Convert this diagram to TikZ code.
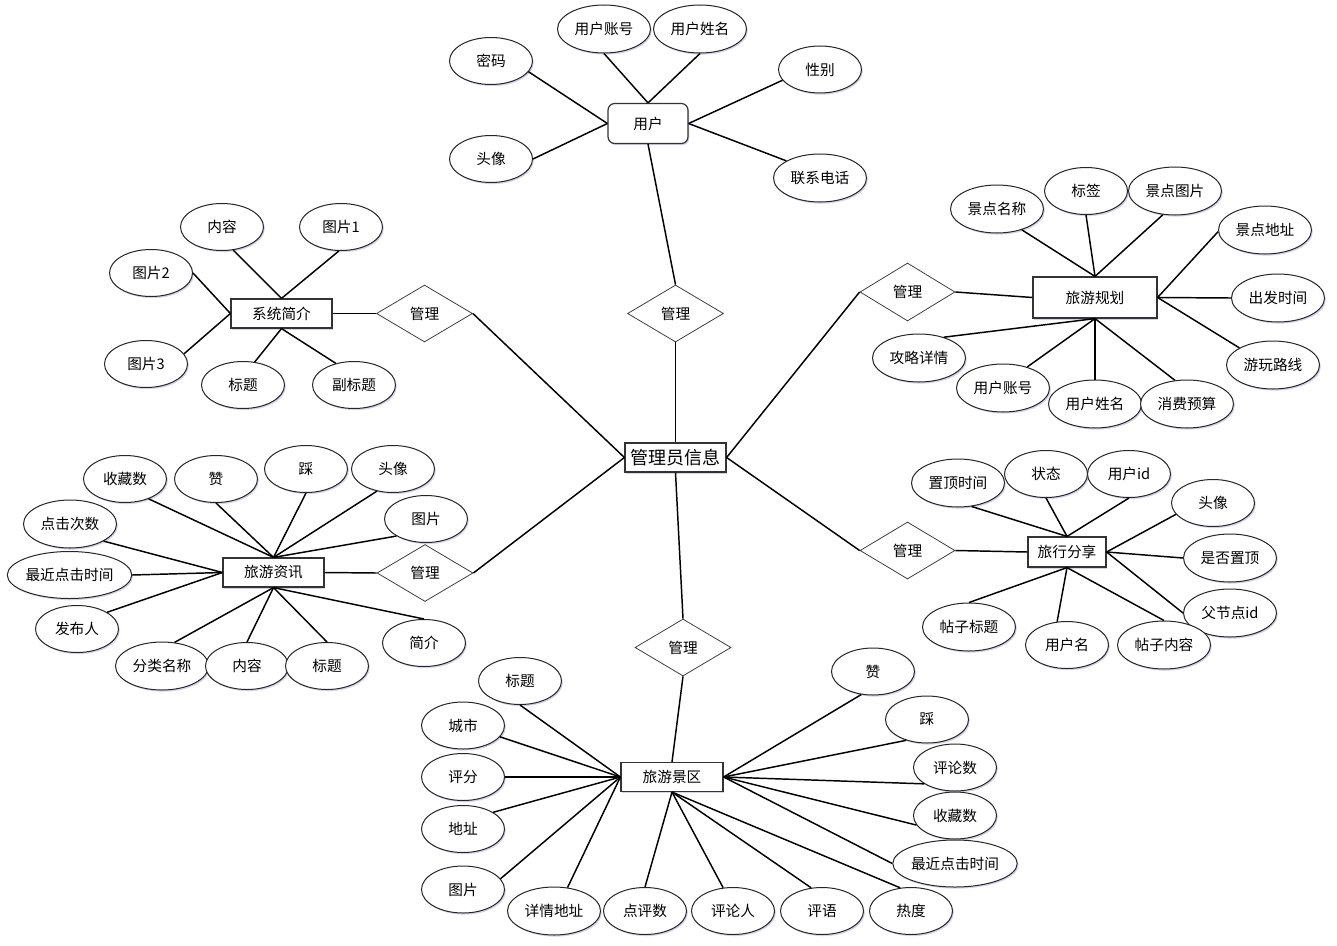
\documentclass[tikz,border=0pt]{standalone}
\usepackage{fontspec}
\usetikzlibrary{shapes.geometric,shadows}
\newfontfamily\cjk{Noto Sans CJK SC}
\begin{document}
\begin{tikzpicture}[x=0.75pt,y=-0.75pt,
  every node/.style={font=\cjk\fontsize{11}{13}\selectfont, inner sep=0pt},
  shad/.style={drop shadow={shadow xshift=1pt, shadow yshift=-1.2pt, opacity=0.25, fill=blue!35!gray}},
  attr/.style={ellipse, draw=black!85, line width=0.75pt, fill=white, shad, minimum width=62.25pt, minimum height=35.25pt},
  wide/.style={minimum width=69.75pt, minimum height=36pt},
  xwide/.style={minimum width=92.25pt},
  ent/.style={rectangle, draw=black!80, line width=0.9pt, fill=white, shad, minimum height=21.75pt},
  rel/.style={diamond, draw=black!75, line width=0.6pt, fill=white, minimum width=72pt, minimum height=42.75pt},
  conn/.style={line width=1.1pt, black}]
\useasboundingbox[fill=white] (0,0) rectangle (1337,945);

% ---------------- centre ----------------
\node[ent, minimum width=75.75pt, font=\cjk\fontsize{13.5}{15}\selectfont] (adm) at (675.5,457.5) {管理员信息};

% ---------------- relations ----------------
\node[rel] (rU) at (675.5,313.5) {管理};
\node[rel] (rS) at (424.5,313.5) {管理};
\node[rel] (rI) at (425,573) {管理};
\node[rel, minimum width=71.25pt, minimum height=43.5pt] (rP) at (907.5,292) {管理};
\node[rel, minimum width=71.25pt] (rF) at (907.5,550.5) {管理};
\node[rel] (rJ) at (683,647.5) {管理};

% ---------------- 用户 ----------------
\node[ent, rounded corners=5pt, minimum width=60pt, minimum height=30pt] (user) at (648,123.5) {用户};
\node[attr] (u1) at (491,61) {密码};
\node[attr, wide] (u2) at (604,29) {用户账号};
\node[attr, wide] (u3) at (700,29) {用户姓名};
\node[attr] (u4) at (820,69.5) {性别};
\node[attr] (u5) at (491,159) {头像};
\node[attr, wide] (u6) at (820,178) {联系电话};
\draw[conn] (u1.-16) -- (user.west);
\draw[conn] (u5.0) -- (user.west);
\draw[conn] (u2.270) -- (user.north);
\draw[conn] (u3.270) -- (user.north);
\draw[conn] (u4.196) -- (user.east);
\draw[conn] (u6.153) -- (user.east);

% ---------------- 系统简介 ----------------
\node[ent, minimum width=75.75pt] (sys) at (281.5,313.5) {系统简介};
\node[attr] (s1) at (222,227) {内容};
\node[attr] (s2) at (341,227) {图片1};
\node[attr] (s3) at (151,273) {图片2};
\node[attr] (s4) at (146,364) {图片3};
\node[attr] (s5) at (243,385) {标题};
\node[attr] (s6) at (354,385) {副标题};
\draw[conn] (s1.296) -- (sys.north);
\draw[conn] (s2.265) -- (sys.north);
\draw[conn] (s3.0) -- (sys.west);
\draw[conn] (s4.15) -- (sys.west);
\draw[conn] (s5.63) -- (sys.south);
\draw[conn] (s6.130) -- (sys.south);

% ---------------- 旅游资讯 ----------------
\node[ent, minimum width=75.75pt] (info) at (273.5,572.5) {旅游资讯};
\node[attr] (i1) at (125,479) {收藏数};
\node[attr] (i2) at (216,479) {赞};
\node[attr] (i3) at (306,469) {踩};
\node[attr] (i4) at (393,469) {头像};
\node[attr] (i5) at (426,519) {图片};
\node[attr, wide] (i6) at (70,524) {点击次数};
\node[attr, xwide] (i7) at (69.5,575) {最近点击时间};
\node[attr] (i8) at (77,629) {发布人};
\node[attr, wide] (i9) at (162,666) {分类名称};
\node[attr] (i10) at (247,666) {内容};
\node[attr] (i11) at (327,666) {标题};
\node[attr] (i12) at (424,643) {简介};
\draw[conn] (i1.320) -- (info.north);
\draw[conn] (i2.270) -- (info.north);
\draw[conn] (i3.270) -- (info.north);
\draw[conn] (i4.234) -- (info.north);
\draw[conn] (i5.210) -- (info.north);
\draw[conn] (i6.333) -- (info.west);
\draw[conn] (i7.0) -- (info.west);
\draw[conn] (i8.29) -- (info.west);
\draw[conn] (i9.62) -- (info.south);
\draw[conn] (i10.90) -- (info.south);
\draw[conn] (i11.90) -- (info.south);
\draw[conn] (i12.90) -- (info.south);

% ---------------- 旅游规划 ----------------
\node[ent, minimum width=93pt, minimum height=30.75pt] (plan) at (1095,297.5) {旅游规划};
\node[attr, wide] (p1) at (997,209) {景点名称};
\node[attr] (p2) at (1086,191) {标签};
\node[attr, wide] (p3) at (1175,191) {景点图片};
\node[attr, wide] (p4) at (1265,230) {景点地址};
\node[attr, wide] (p5) at (1278,298) {出发时间};
\node[attr, wide] (p6) at (1273,365) {游玩路线};
\node[attr, wide] (p7) at (919,358) {攻略详情};
\node[attr, wide] (p8) at (1003,388) {用户账号};
\node[attr, wide] (p9) at (1095,404) {用户姓名};
\node[attr, wide] (p10) at (1187,404) {消费预算};
\draw[conn] (p1.320) -- (plan.north);
\draw[conn] (p2.270) -- (plan.north);
\draw[conn] (p3.243) -- (plan.north);
\draw[conn] (p4.182) -- (plan.east);
\draw[conn] (p5.180) -- (plan.east);
\draw[conn] (p6.153) -- (plan.east);
\draw[conn] (p7.40) -- (plan.south);
\draw[conn] (p8.41) -- (plan.south);
\draw[conn] (p9.90) -- (plan.south);
\draw[conn] (p10.117) -- (plan.south);

% ---------------- 旅行分享 ----------------
\node[ent, minimum width=58.5pt, minimum height=22.5pt] (share) at (1067,552) {旅行分享};
\node[attr, wide] (f1) at (958,483) {置顶时间};
\node[attr] (f2) at (1046,474) {状态};
\node[attr] (f3) at (1129,474) {用户id};
\node[attr] (f4) at (1213,503) {头像};
\node[attr, wide] (f5) at (1230,558) {是否置顶};
\node[attr, wide] (f6) at (1230,613) {父节点id};
\node[attr, wide] (f7) at (969,627) {帖子标题};
\node[attr] (f8) at (1067,645) {用户名};
\node[attr, wide] (f9) at (1164,645) {帖子内容};
\draw[conn] (f1.300) -- (share.north);
\draw[conn] (f2.270) -- (share.north);
\draw[conn] (f3.270) -- (share.north);
\draw[conn] (f4.197) -- (share.east);
\draw[conn] (f5.180) -- (share.east);
\draw[conn] (f6.180) -- (share.east);
\draw[conn] (f7.90) -- (share.south);
\draw[conn] (f8.113) -- (share.south);
\draw[conn] (f9.90) -- (share.south);

% ---------------- 旅游景区 ----------------
\node[ent, minimum width=76.5pt] (spot) at (672,777) {旅游景区};
\node[attr] (j1) at (520,681) {标题};
\node[attr] (j2) at (463,725.5) {城市};
\node[attr] (j3) at (463,777) {评分};
\node[attr] (j4) at (463,829) {地址};
\node[attr] (j5) at (463,889.5) {图片};
\node[attr, wide] (j6) at (554,911) {详情地址};
\node[attr] (j7) at (645,911) {点评数};
\node[attr] (j8) at (733,911) {评论人};
\node[attr] (j9) at (822,911) {评语};
\node[attr] (j10) at (911,911) {热度};
\node[attr] (j11) at (873,671.5) {赞};
\node[attr] (j12) at (927,719.5) {踩};
\node[attr] (j13) at (955,767.5) {评论数};
\node[attr] (j14) at (955,815.5) {收藏数};
\node[attr, xwide] (j15) at (955,863.5) {最近点击时间};
\draw[conn] (j1.270) -- (spot.west);
\draw[conn] (j2.-17) -- (spot.west);
\draw[conn] (j3.0) -- (spot.west);
\draw[conn] (j4.29) -- (spot.west);
\draw[conn] (j5.16) -- (spot.west);
\draw[conn] (j6.60) -- (spot.west);
\draw[conn] (j7.90) -- (spot.south);
\draw[conn] (j8.113) -- (spot.south);
\draw[conn] (j9.115) -- (spot.south);
\draw[conn] (j10.115) -- (spot.south);
\draw[conn] (j11.243) -- (spot.east);
\draw[conn] (j12.225) -- (spot.east);
\draw[conn] (j13.208) -- (spot.east);
\draw[conn] (j14.194) -- (spot.east);
\draw[conn] (j15.180) -- (spot.east);

% ---------------- relation links ----------------
\draw[conn] (user.south) -- (rU.north);
\draw[conn] (rU.south) -- (adm.north);
\draw[conn] (sys.east) -- (rS.west);
\draw[conn] (rS.east) -- (adm.west);
\draw[conn] (info.east) -- (rI.west);
\draw[conn] (rI.east) -- (adm.west);
\draw[conn] (rP.east) -- (plan.west);
\draw[conn] (rP.west) -- (adm.east);
\draw[conn] (rF.east) -- (share.west);
\draw[conn] (rF.west) -- (adm.east);
\draw[conn] (adm.south) -- (rJ.north);
\draw[conn] (rJ.south) -- (spot.north);
\end{tikzpicture}
\end{document}
